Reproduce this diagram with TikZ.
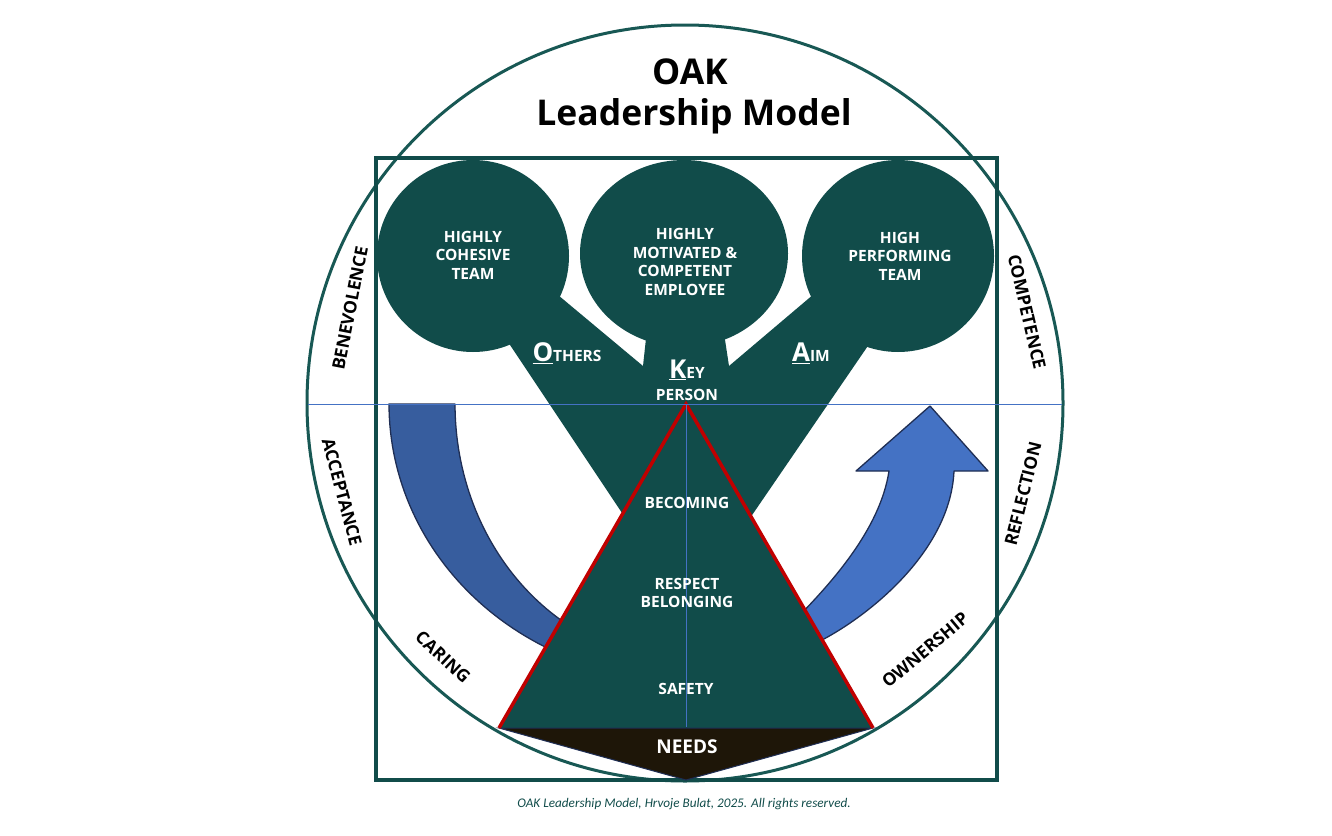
\documentclass[tikz,border=0pt]{standalone}
\usepackage{fontspec}
\setmainfont{Open Sans}
\newfontfamily\calib{Carlito}
\usetikzlibrary{positioning,shapes.geometric}

\definecolor{oakteal}{RGB}{17,76,74}
\definecolor{rimteal}{RGB}{24,88,84}
\definecolor{darkblue}{RGB}{55,93,158}
\definecolor{lightblue}{RGB}{68,114,196}
\definecolor{navy}{RGB}{31,46,84}
\definecolor{pyrred}{RGB}{192,0,0}
\definecolor{needsbrown}{RGB}{30,22,8}

\newcommand{\oakinit}[1]{{\fontsize{26}{26}\selectfont\underline{#1}}}

\begin{document}
\begin{tikzpicture}
	\begin{scope}[x=1pt, y=-1pt]
		\tikzstyle{every node}=[align=center, inner sep=1pt]
		\tikzstyle{wtext}=[text=white, font=\bfseries\fontsize{15.5}{18.5}\selectfont]
		\tikzstyle{side}=[text=black, font=\bfseries\fontsize{17.5}{20}\selectfont]
		\tikzstyle{bubble}=[fill=oakteal, circle, inner sep=0pt]
		\tikzstyle{band}=[draw=navy, line width=1.3pt, line join=round]
		\useasboundingbox (0,0) rectangle (1332,835);

		% outer frame
		\draw [rimteal, line width=3pt] (685,403) circle [radius=378pt];
		\draw [oakteal, line width=4pt] (376,158) rectangle (997,780);

		\node [font=\bfseries\fontsize{35.5}{40}\selectfont] (oak)   at (690,72)  {OAK};
		\node [font=\bfseries\fontsize{35.5}{40}\selectfont] (model) at (694,116) {Leadership Model};

		% the three bubbles and the stem
		\node [bubble, minimum size=192pt] (cohesive) at (473,256) {};
		\node [bubble, ellipse, minimum width=208pt, minimum height=187pt] (motivated) at (684,253.5) {};
		\node [bubble, minimum size=192pt] (performing) at (898,256) {};
		\fill [oakteal] (490,315) -- (640,540) -- (735,540) -- (887,318) -- (834,277) -- (729,366)
			-- (722,320) -- (648,320) -- (643,366) -- (540,280) -- cycle;

		% arrows
		\draw [band, fill=darkblue] plot[domain=180:110, samples=50] ({686+297*cos(\x)}, {404+276*sin(\x)})
			-- plot[domain=110:180, samples=50] ({686+231*cos(\x)}, {404+257*sin(\x)}) -- cycle;
		\draw [band, fill=lightblue] (790,625) .. controls (830,585) and (880,530) .. (889,471) -- (856,471)
			-- (930,406) -- (988,471) -- (954,471) .. controls (950,560) and (850,630) .. (805,648) -- cycle;

		% pyramid
		\coordinate (apex)    at (686,404);
		\coordinate (baseL)   at (499,728);
		\coordinate (baseR)   at (873,728);
		\coordinate (needtip) at (686,780);
		\coordinate (west)    at (308,404);
		\coordinate (east)    at (1062,404);
		\coordinate (axisend) at (686,727);
		\fill [oakteal] (baseL) -- (apex) -- (baseR) -- cycle;
		\draw [fill=needsbrown, draw=navy, line width=1pt] (baseL) -- (baseR) -- (needtip) -- cycle;
		\draw [pyrred, line width=3.5pt] (baseL) -- (apex) -- (baseR);
		\draw [lightblue, line width=0.9pt] (west) -- (east);
		\draw [lightblue, line width=0.9pt] (apex) -- (axisend);

		\node [wtext] (cohesivetxt)   at (473,255) {HIGHLY\\COHESIVE\\TEAM};
		\node [wtext] (motivatedtxt)  at (685,262) {HIGHLY\\MOTIVATED \&\\COMPETENT\\EMPLOYEE};
		\node [wtext] (performingtxt) at (900,256) {HIGH\\PERFORMING\\TEAM};

		\node [wtext] (others) at (567,353) {\oakinit{O}THERS};
		\node [wtext] (key)    at (687,370) {\oakinit{K}EY};
		\node [wtext] (aim)    at (811,353) {\oakinit{A}IM};
		\node [wtext] (person) at (687,395) {PERSON};

		\node [wtext] (becoming) at (687,503) {BECOMING};
		\node [wtext] (respect)  at (687,593) {RESPECT\\BELONGING};
		\node [wtext] (safety)   at (686,689) {SAFETY};
		\node [wtext, font=\bfseries\fontsize{19}{22}\selectfont] (needs) at (687,747) {NEEDS};

		\node [side, rotate=79]  (benevolence) at (350,308) {BENEVOLENCE};
		\node [side, rotate=-75] (acceptance)  at (342,492) {ACCEPTANCE};
		\node [side, rotate=-77] (competence)  at (1027,312) {COMPETENCE};
		\node [side, rotate=76]  (reflection)  at (1023,494) {REFLECTION};
		\node [side, rotate=-43] (caring)      at (443,657) {CARING};
		\node [side, rotate=40]  (ownership)   at (925,650) {OWNERSHIP};

		\node [text=oakteal, font=\calib\itshape\fontsize{13.2}{15}\selectfont] (footer) at (684,804)
			{OAK Leadership Model, Hrvoje Bulat, 2025. All rights reserved.};
	\end{scope}
\end{tikzpicture}
\end{document}
